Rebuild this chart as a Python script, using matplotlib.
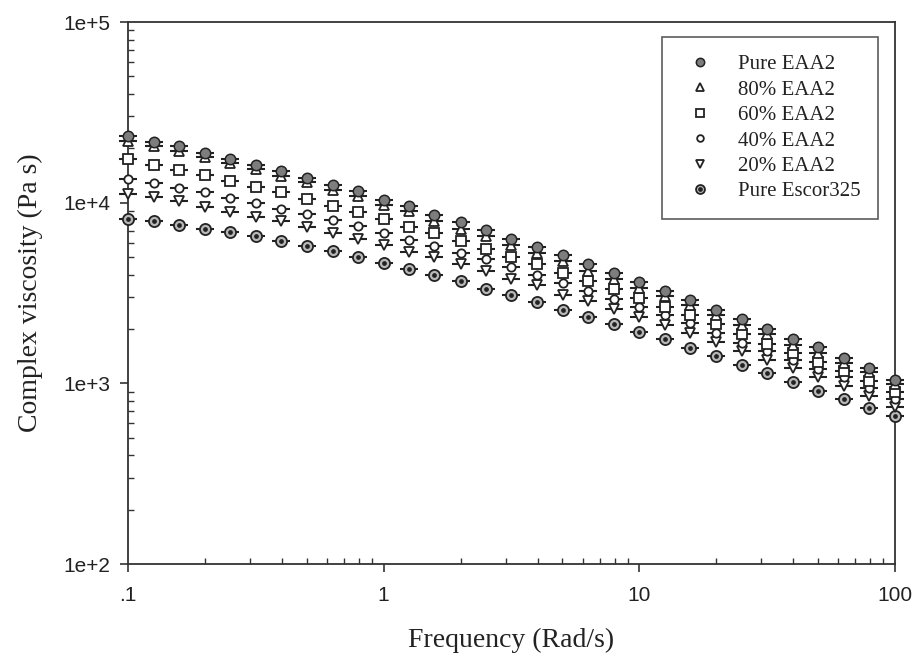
import matplotlib
matplotlib.use("Agg")
import matplotlib.pyplot as plt
from matplotlib.ticker import LogLocator, FixedLocator, FixedFormatter, NullFormatter
from matplotlib.legend_handler import HandlerTuple

freq = [0.1, 0.126, 0.158, 0.2, 0.251, 0.316, 0.398, 0.501, 0.631, 0.794,
        1.0, 1.26, 1.58, 2.0, 2.51, 3.16, 3.98, 5.01, 6.31, 7.94,
        10.0, 12.6, 15.8, 20.0, 25.1, 31.6, 39.8, 50.1, 63.1, 79.4, 100.0]

pure_eaa2 = [23500, 21800, 20500, 18800, 17400, 16200, 14900, 13700, 12600, 11600,
             10400, 9540, 8580, 7800, 7090, 6330, 5690, 5100, 4600, 4090,
             3660, 3240, 2890, 2560, 2280, 2010, 1770, 1580, 1380, 1210, 1050]
eaa2_80 = [22000, 20700, 19200, 17800, 16600, 15400, 14100, 12950, 11800, 10900,
           9750, 8980, 7880, 7150, 6510, 5860, 5270, 4740, 4170, 3790,
           3380, 3040, 2700, 2380, 2090, 1870, 1640, 1470, 1290, 1150, 990]
eaa2_60 = [17400, 16200, 15200, 14300, 13200, 12150, 11500, 10500, 9630, 8840,
           8160, 7340, 6800, 6170, 5570, 5010, 4550, 4090, 3670, 3310,
           2980, 2650, 2380, 2120, 1870, 1660, 1480, 1310, 1170, 1030, 895]
eaa2_40 = [13500, 12900, 12100, 11400, 10600, 10000, 9270, 8690, 7980, 7400,
           6800, 6250, 5790, 5270, 4890, 4390, 4000, 3600, 3260, 2940,
           2650, 2380, 2150, 1910, 1680, 1510, 1350, 1200, 1080, 947, 816]
eaa2_20 = [11200, 10750, 10200, 9470, 8840, 8340, 7880, 7340, 6800, 6330,
           5810, 5310, 5010, 4550, 4170, 3790, 3480, 3100, 2850, 2590,
           2340, 2090, 1890, 1690, 1510, 1350, 1210, 1080, 966, 851, 743]
escor325 = [8160, 7880, 7490, 7150, 6890, 6510, 6110, 5740, 5380, 4990,
            4640, 4300, 4000, 3670, 3340, 3100, 2810, 2560, 2340, 2140,
            1930, 1750, 1560, 1420, 1270, 1140, 1020, 907, 823, 734, 660]

labels = ["Pure EAA2", "80% EAA2", "60% EAA2", "40% EAA2", "20% EAA2", "Pure Escor325"]
x_tick_vals = [0.1, 1, 10, 100]
x_tick_labels = [".1", "1", "10", "100"]
y_tick_vals = [1e2, 1e3, 1e4, 1e5]
y_tick_labels = ["1e+2", "1e+3", "1e+4", "1e+5"]

INK = "#222222"
SERIF = ["Liberation Serif", "DejaVu Serif"]
SANS = ["Liberation Sans", "DejaVu Sans"]

fig = plt.figure(figsize=(9.17, 6.6), dpi=100)
ax = fig.add_axes([128 / 917, 1 - 564 / 660, (895 - 128) / 917, (564 - 22) / 660])
ax.set_xscale("log")
ax.set_yscale("log")
ax.set_xlim(0.1, 100)
ax.set_ylim(1e2, 1e5)

series = [pure_eaa2, eaa2_80, eaa2_60, eaa2_40, eaa2_20, escor325]
styles = [
    dict(marker="o", ms=7.5, mfc="#7d7d7d", mec=INK, mew=1.1),
    dict(marker="^", ms=7.5, mfc="white", mec=INK, mew=1.3),
    dict(marker="s", ms=7.0, mfc="white", mec=INK, mew=1.3),
    dict(marker="o", ms=6.0, mfc="white", mec=INK, mew=1.3),
    dict(marker="v", ms=7.5, mfc="white", mec=INK, mew=1.3),
    dict(marker="o", ms=8.0, mfc="#b8b8b8", mec=INK, mew=1.3),
]

handles = []
for i, (vals, st) in enumerate(zip(series, styles)):
    # short horizontal bars through each point
    ax.plot(freq, vals, linestyle="none", marker="_", ms=12.5, mew=1.5,
            color=INK, zorder=2 + i * 0.1, clip_on=False)
for i, (vals, st) in enumerate(zip(series, styles)):
    h, = ax.plot(freq, vals, linestyle="none", zorder=10 - i * 0.5, clip_on=False, **st)
    if i == 5:
        d, = ax.plot(freq, vals, linestyle="none", marker="o", ms=2.4, mfc=INK, mec=INK,
                     zorder=10.1 - i * 0.5, clip_on=False)
        handles.append((h, d))
    else:
        handles.append(h)

for s in ax.spines.values():
    s.set_color("#333333")
    s.set_linewidth(1.3)

ax.xaxis.set_major_locator(FixedLocator(x_tick_vals))
ax.xaxis.set_major_formatter(FixedFormatter(x_tick_labels))
ax.yaxis.set_major_locator(FixedLocator(y_tick_vals))
ax.yaxis.set_major_formatter(FixedFormatter(y_tick_labels))
ax.xaxis.set_minor_locator(LogLocator(base=10, subs=range(2, 10), numticks=20))
ax.yaxis.set_minor_locator(LogLocator(base=10, subs=range(2, 10), numticks=20))
ax.xaxis.set_minor_formatter(NullFormatter())
ax.yaxis.set_minor_formatter(NullFormatter())

ax.tick_params(which="major", direction="out", length=6, width=1.2, color="#333333",
               labelsize=15, labelcolor=INK, top=False, right=False)
ax.tick_params(axis="x", which="major", pad=10)
ax.tick_params(axis="y", which="major", pad=7)
ax.tick_params(which="minor", direction="in", length=4.5, width=1.0, color="#333333",
               top=False, right=False)
for lab in ax.get_xticklabels() + ax.get_yticklabels():
    lab.set_fontfamily(SANS)

ax.set_xlabel("Frequency (Rad/s)", fontsize=20, family=SERIF, color=INK, labelpad=16)
ax.set_ylabel("Complex viscosity (Pa s)", fontsize=20, family=SERIF, color=INK, labelpad=14)

leg = ax.legend(handles, labels, loc="upper right",
                bbox_to_anchor=((878 - 128) / 767, (564 - 37) / 542),
                borderaxespad=0, frameon=True, fancybox=False, edgecolor="#333333",
                prop={"family": SERIF, "size": 15}, labelspacing=0.28, borderpad=0.85,
                handlelength=2.0, handletextpad=0.8, numpoints=1,
                handler_map={tuple: HandlerTuple(ndivide=1, pad=0)})
leg.get_frame().set_linewidth(1.2)
for t in leg.get_texts():
    t.set_color(INK)
for lh in leg.legend_handles:
    try:
        lh.set_markersize(lh.get_markersize() * 0.8)
    except Exception:
        pass

fig.savefig("out.png", dpi=100, facecolor="white")
